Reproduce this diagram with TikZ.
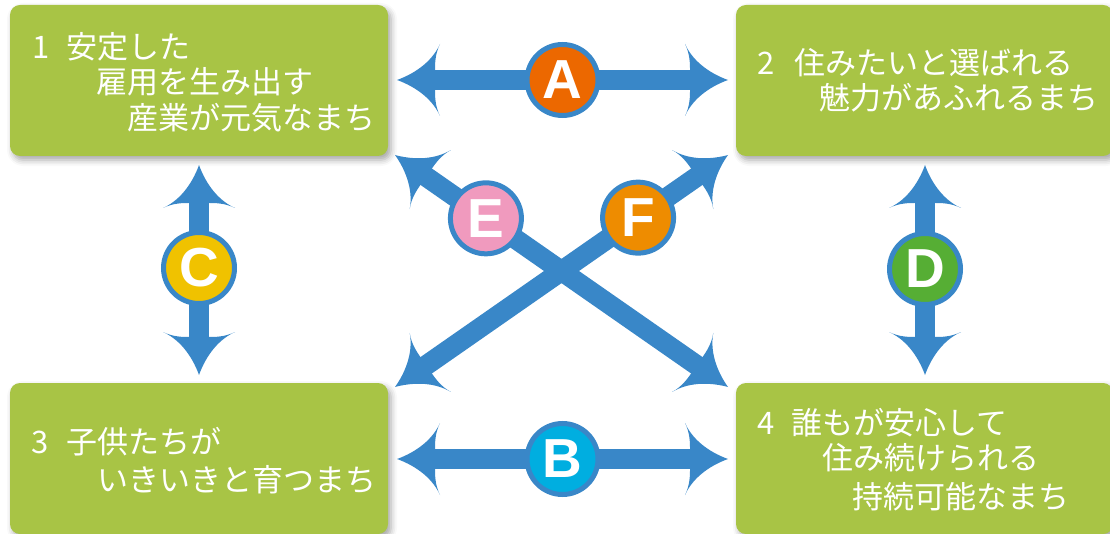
\documentclass[tikz,border=0pt]{standalone}
\usepackage{fontspec}
\setmainfont{Noto Sans}
\newfontfamily\jp{Noto Sans CJK JP}
\newfontfamily\badgefont{Liberation Sans}
\usetikzlibrary{calc,shadows.blur}
\definecolor{boxgreen}{RGB}{168,196,69}
\definecolor{arrowblue}{RGB}{57,135,200}
\definecolor{cA}{RGB}{236,104,0}
\definecolor{cB}{RGB}{0,174,224}
\definecolor{cC}{RGB}{240,194,0}
\definecolor{cD}{RGB}{86,174,52}
\definecolor{cE}{RGB}{240,154,190}
\definecolor{cF}{RGB}{238,140,0}
\pgfdeclarearrow{
  name=Barb,
  setup code={
    \pgfarrowssettipend{0pt}
    \pgfarrowssetlineend{-36pt}
    \pgfarrowssetbackend{-43pt}
    \pgfarrowssetvisualbackend{-38pt}
    \pgfarrowsupperhullpoint{0pt}{0pt}
    \pgfarrowsupperhullpoint{-43pt}{36pt}
  },
  drawing code={
    \pgfpathmoveto{\pgfpoint{0pt}{0pt}}
    \pgfpathcurveto{\pgfpoint{-14pt}{5pt}}{\pgfpoint{-34pt}{16pt}}{\pgfpoint{-43pt}{36pt}}
    \pgfpathcurveto{\pgfpoint{-38pt}{26pt}}{\pgfpoint{-38pt}{16pt}}{\pgfpoint{-38pt}{10pt}}
    \pgfpathlineto{\pgfpoint{-38pt}{-10pt}}
    \pgfpathcurveto{\pgfpoint{-38pt}{-16pt}}{\pgfpoint{-38pt}{-26pt}}{\pgfpoint{-43pt}{-36pt}}
    \pgfpathcurveto{\pgfpoint{-34pt}{-16pt}}{\pgfpoint{-14pt}{-5pt}}{\pgfpoint{0pt}{0pt}}
    \pgfpathclose
    \pgfusepathqfill
  }
}
\tikzset{
  box/.style={rectangle, rounded corners=10pt, fill=boxgreen, inner sep=0pt,
    blur shadow={shadow xshift=3pt, shadow yshift=-4pt, shadow blur radius=6pt, shadow opacity=35}},
  txt/.style={text=white, font=\jp\fontsize{31}{36}\selectfont, inner sep=0pt,
    anchor=west, text height=27pt, text depth=4pt},
  conn/.style={line width=20pt, color=arrowblue, Barb-Barb},
  badge/.style={circle, draw=arrowblue, line width=5pt, minimum size=71pt, inner sep=0pt,
    text=white, font=\badgefont\bfseries\fontsize{55}{55}\selectfont}
}
\begin{document}
\begin{tikzpicture}[x=1pt,y=-1pt]
\useasboundingbox (0,0) rectangle (1110,534);
% boxes
\node[box, minimum width=378pt, minimum height=151pt] (box1) at (199,80.5) {};
\node[box, minimum width=377pt, minimum height=151pt] (box2) at (924.5,80.5) {};
\node[box, minimum width=378pt, minimum height=151pt] (box3) at (199,458.5) {};
\node[box, minimum width=377pt, minimum height=151pt] (box4) at (924.5,458.5) {};
% texts
\node[txt] (t1a) at (32,47) {\makebox[34pt][l]{1}安定した};
\node[txt] (t1b) at (96,82) {雇用を生み出す};
\node[txt] (t1c) at (127,118) {産業が元気なまち};
\node[txt] (t2a) at (757,63) {\makebox[37pt][l]{2}住みたいと選ばれる};
\node[txt] (t2b) at (819,98) {魅力があふれるまち};
\node[txt] (t3a) at (31,442) {\makebox[35pt][l]{3}子供たちが};
\node[txt] (t3b) at (97,480) {いきいきと育つまち};
\node[txt] (t4a) at (757,423) {\makebox[34pt][l]{4}誰もが安心して};
\node[txt] (t4b) at (822,458) {住み続けられる};
\node[txt] (t4c) at (852,497) {持続可能なまち};
% arrow ends
\coordinate (a1) at (397,80);
\coordinate (a2) at (728,80);
\coordinate (b1) at (397,459);
\coordinate (b2) at (728,459);
\coordinate (c1) at (199,165);
\coordinate (c2) at (199,375);
\coordinate (d1) at (925,165);
\coordinate (d2) at (925,375);
\coordinate (e1) at (395,155);
\coordinate (e2) at (728,387);
\coordinate (f1) at (395,387);
\coordinate (f2) at (728,155);
% connectors
\draw[conn] (a1) -- (a2);
\draw[conn] (b1) -- (b2);
\draw[conn] (c1) -- (c2);
\draw[conn] (d1) -- (d2);
\draw[conn] (e1) -- (e2);
\draw[conn] (f1) -- (f2);
% badges
\node[badge, fill=cA] (A) at ($(a1)!0.5!(a2)$) {A};
\node[badge, fill=cB] (B) at ($(b1)!0.5!(b2)$) {B};
\node[badge, fill=cC] (C) at (199,268) {C};
\node[badge, fill=cD] (D) at (925,269) {D};
\node[badge, fill=cE] (E) at ($(e1)!0.273!(e2)$) {E};
\node[badge, fill=cF] (F) at ($(f1)!0.73!(f2)$) {F};
\end{tikzpicture}
\end{document}
